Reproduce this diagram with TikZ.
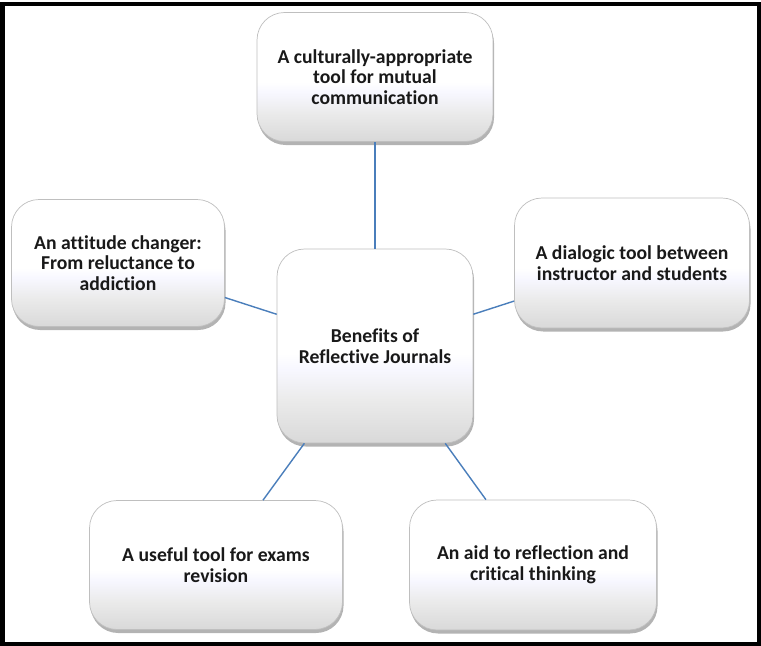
\documentclass[tikz,border=0pt]{standalone}
\usepackage{fontspec}
\setmainfont{Carlito}[Ligatures=NoCommon]
\usetikzlibrary{shadows}
\definecolor{linkblue}{HTML}{4A7EBB}
\pgfdeclareverticalshading{boxshade}{100bp}{color(0bp)=(black!15); color(25bp)=(black!15); color(36bp)=(black!8); color(44bp)=(blue!3); color(48bp)=(white); color(100bp)=(white)}
\begin{document}
\begin{tikzpicture}[x=0.02cm,y=-0.02cm,
        box/.style={draw=black!25,rounded corners=0.55cm,shading=boxshade,
            drop shadow={shadow xshift=0.6pt,shadow yshift=-2pt,opacity=0.6},
            align=center,inner sep=0pt,text=black!90,font=\bfseries\fontsize{11.2}{11.8}\selectfont},
        link/.style={draw=linkblue,line width=0.8pt}]
    \useasboundingbox (0,0) rectangle (761,646);
    \draw[line width=2.3pt] (2.5,4) rectangle (759,644);
    % hub and the five benefits
    \node[box,minimum width=3.92cm,minimum height=3.88cm] (centre) at (375,346) {Benefits of\\Reflective Journals};
    \node[box,minimum width=4.72cm,minimum height=2.58cm] (top) at (375,77) {A culturally-appropriate\\tool for mutual\\communication};
    \node[box,minimum width=4.26cm,minimum height=2.54cm] (left) at (118,263) {An attitude changer:\\From reluctance to\\addiction};
    \node[box,minimum width=4.70cm,minimum height=2.60cm] (right) at (632,263) {A dialogic tool between\\instructor and students};
    \node[box,minimum width=5.06cm,minimum height=2.58cm] (botleft) at (216,565) {A useful tool for exams\\revision};
    \node[box,minimum width=4.94cm,minimum height=2.60cm] (botright) at (533,565) {An aid to reflection and\\critical thinking};
    % connectors
    \draw[link] (centre) -- (top);
    \draw[link] (centre) -- (left);
    \draw[link] (centre) -- (right);
    \draw[link] (centre) -- (botleft);
    \draw[link] (centre) -- (botright);
\end{tikzpicture}
\end{document}
